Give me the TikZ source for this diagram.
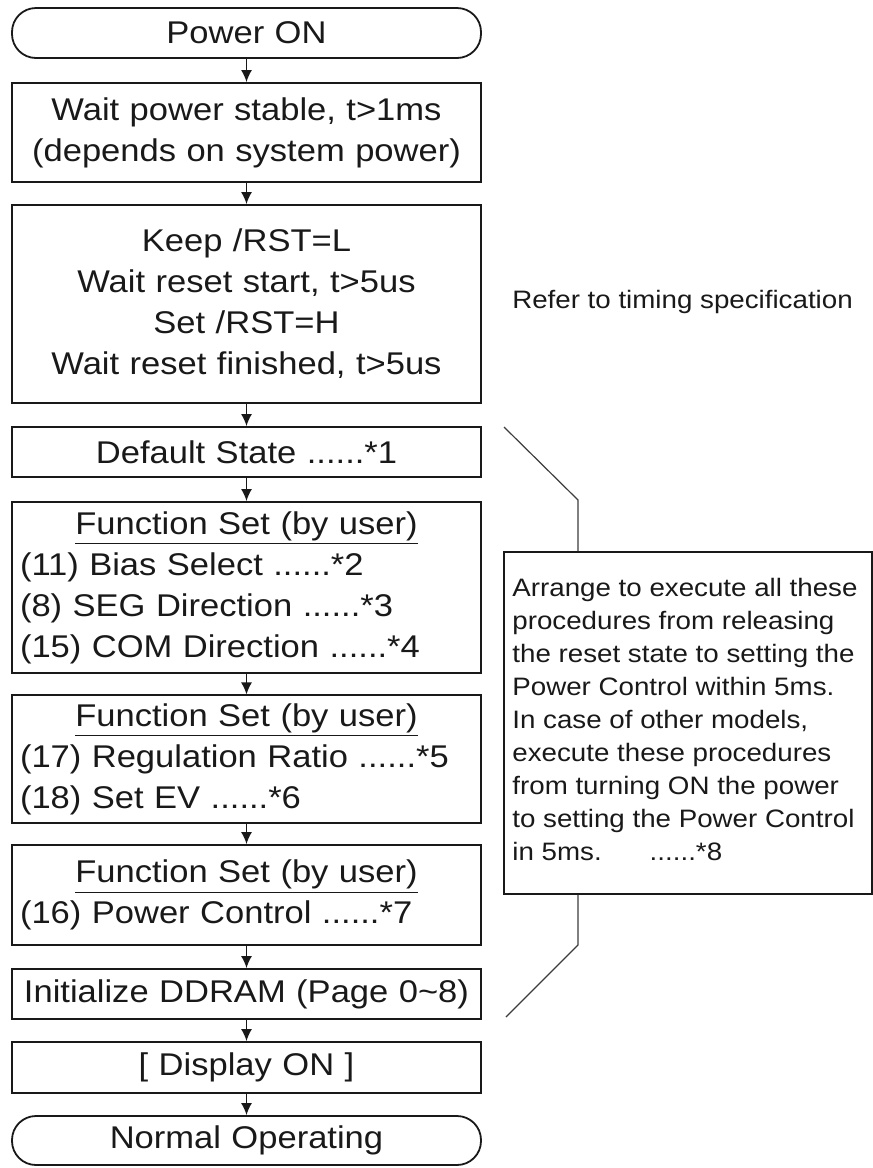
\documentclass[tikz,border=0pt]{standalone}
\usepackage{fontspec}
\setmainfont{Liberation Sans}[FakeStretch=1.1]
\usetikzlibrary{arrows.meta,positioning}
\definecolor{FlowBlack}{RGB}{25,25,25}
\definecolor{LeaderGray}{RGB}{60,60,60}
\newcommand{\fshead}{\makebox[226.5pt]{\underline{Function Set (by user)}}}

\begin{document}
\begin{tikzpicture}[x=0.5pt,y=-0.5pt,>={Latex[length=6pt,width=5.5pt]},
    stepbox/.style={draw=FlowBlack,line width=0.9pt,minimum width=234.5pt,
      inner sep=4pt,text width=226.5pt,align=center,text=FlowBlack,
      font=\fontsize{15.7}{20.5}\selectfont},
    termbox/.style={stepbox,rounded corners=12pt},
    userbox/.style={stepbox,align=left},
    notebox/.style={draw=FlowBlack,line width=0.9pt,minimum width=184pt,minimum height=171pt},
    notetext/.style={inner sep=0pt,align=left,text=FlowBlack,font=\fontsize{12.6}{16.5}\selectfont},
    link/.style={->,line width=0.8pt,FlowBlack},
    leader/.style={line width=0.6pt,LeaderGray}]
      \useasboundingbox (0,0) rectangle (873,1168);
      \node[termbox,minimum height=25pt] (start) at (246.5,33) {Power ON};
      \node[stepbox,minimum height=49.5pt] (wait) at (246.5,132.5)
        {Wait power stable, t>1ms\\(depends on system power)};
      \node[stepbox,minimum height=99pt] (reset) at (246.5,304)
        {Keep /RST=L\\Wait reset start, t>5us\\Set /RST=H\\Wait reset finished, t>5us};
      \node[stepbox,minimum height=25pt] (default) at (246.5,452) {Default State ......*1};
      \node[userbox,minimum height=85.5pt] (bias) at (246.5,587.5)
        {\fshead\\(11) Bias Select ......*2\\(8) SEG Direction ......*3\\(15) COM Direction ......*4};
      \node[userbox,minimum height=62pt] (ratio) at (246.5,759)
        {\fshead\\(17) Regulation Ratio ......*5\\(18) Set EV ......*6};
      \node[userbox,minimum height=50pt] (power) at (246.5,895)
        {\fshead\\(16) Power Control ......*7};
      \node[stepbox,minimum height=25pt] (ddram) at (246.5,994) {Initialize DDRAM (Page 0\textasciitilde 8)};
      \node[stepbox,minimum height=25.5pt] (display) at (246.5,1067.5) {[ Display ON ]};
      \node[termbox,minimum height=24.5pt] (normal) at (246.5,1140.5) {Normal Operating};
      \draw[link] (start) -- (wait);
      \draw[link] (wait) -- (reset);
      \draw[link] (reset) -- (default);
      \draw[link] (default) -- (bias);
      \draw[link] (bias) -- (ratio);
      \draw[link] (ratio) -- (power);
      \draw[link] (power) -- (ddram);
      \draw[link] (ddram) -- (display);
      \draw[link] (display) -- (normal);
      \node[notetext] (refer) at (682.5,302) {Refer to timing specification};
      \node[notebox] (note) at (688,723) {};
      \node[notetext,anchor=north west] (notebody) at (512,578)
        {Arrange to execute all these\\procedures from releasing\\the reset state to setting the\\
         Power Control within 5ms.\\In case of other models,\\execute these procedures\\
         from turning ON the power\\to setting the Power Control\\in 5ms.\hspace{24pt}......*8};
      \coordinate (legA) at (504,427);
      \coordinate (legB) at (578,500);
      \coordinate (legC) at (578,945);
      \coordinate (legD) at (506,1017);
      \draw[leader] (legA) -- (legB) -- (legB |- note.north);
      \draw[leader] (legC |- note.south) -- (legC) -- (legD);
    \end{tikzpicture}
\end{document}
